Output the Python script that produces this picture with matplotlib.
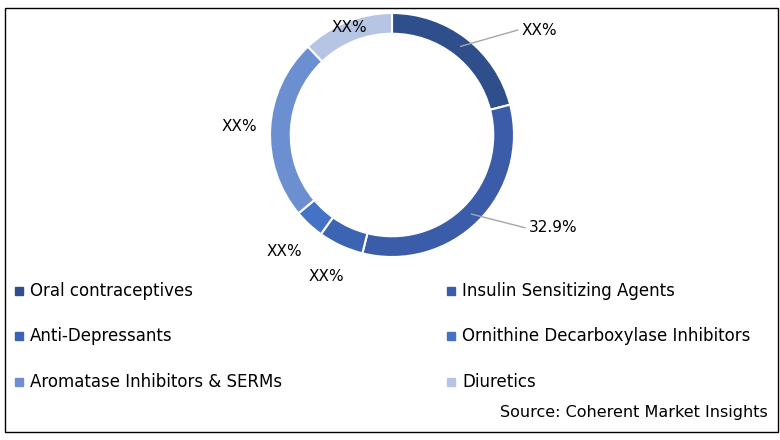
import numpy as np
import matplotlib.pyplot as plt
from matplotlib.patches import Rectangle

categories = ["Oral contraceptives", "Insulin Sensitizing Agents", "Anti-Depressants",
              "Ornithine Decarboxylase Inhibitors", "Aromatase Inhibitors & SERMs", "Diuretics"]
shares = [21, 32.9, 6, 4, 24, 12.1]
labels = ["XX%", "32.9%", "XX%", "XX%", "XX%", "XX%"]
colors = ["#2f4e8c", "#3a5ca9", "#3d63b3", "#4472c4", "#6b8fd0", "#b7c5e4"]

W, H = 780, 440
fig = plt.figure(figsize=(7.8, 4.4), dpi=100)
fig.patches.append(Rectangle((5 / W, 8 / H), 773 / W, 424 / H, transform=fig.transFigure,
                             fill=False, edgecolor="black", lw=1))

cx, cy, R = 392, 135, 122
ax = fig.add_axes([(cx - R) / W, (H - cy - R) / H, 2 * R / W, 2 * R / H])
wedges, _ = ax.pie(shares, colors=colors, startangle=90, counterclock=False,
                   wedgeprops=dict(width=0.17, edgecolor="white", linewidth=1.5))
ax.set_xlim(-1, 1)
ax.set_ylim(-1, 1)
ax.set_aspect("equal")
ax.axis("off")

# label positions in donut units for the callout labels
callouts = {0: (1.06, 0.86), 1: (1.12, -0.76)}
for i, (w, lab) in enumerate(zip(wedges, labels)):
    ang = np.deg2rad((w.theta1 + w.theta2) / 2)
    x, y = np.cos(ang), np.sin(ang)
    if i in callouts:
        tx, ty = callouts[i]
        ax.plot([0.92 * x, tx - 0.03], [0.92 * y, ty], color="#a6a6a6", lw=1, clip_on=False)
        ax.text(tx, ty, lab, ha="left", va="center", fontsize=11, clip_on=False)
    else:
        r = {2: 1.28, 3: 1.3, 4: 1.25, 5: 0.95}[i]
        ax.text(r * x, r * y, lab, ha="center", va="center", fontsize=11, clip_on=False)

rows = [291, 336, 382]
for i, cat in enumerate(categories):
    col, row = i % 2, i // 2
    mx = 15 if col == 0 else 447
    y = 1 - rows[row] / H
    fig.patches.append(Rectangle((mx / W, y - 4 / H), 8 / W, 8 / H,
                                 transform=fig.transFigure, color=colors[i]))
    fig.text((mx + 15) / W, y, cat, ha="left", va="center", fontsize=12)

fig.text(500 / W, 1 - 412 / H, "Source: Coherent Market Insights", ha="left", va="center",
         fontsize=11.5)

fig.savefig("out.png", dpi=100)
